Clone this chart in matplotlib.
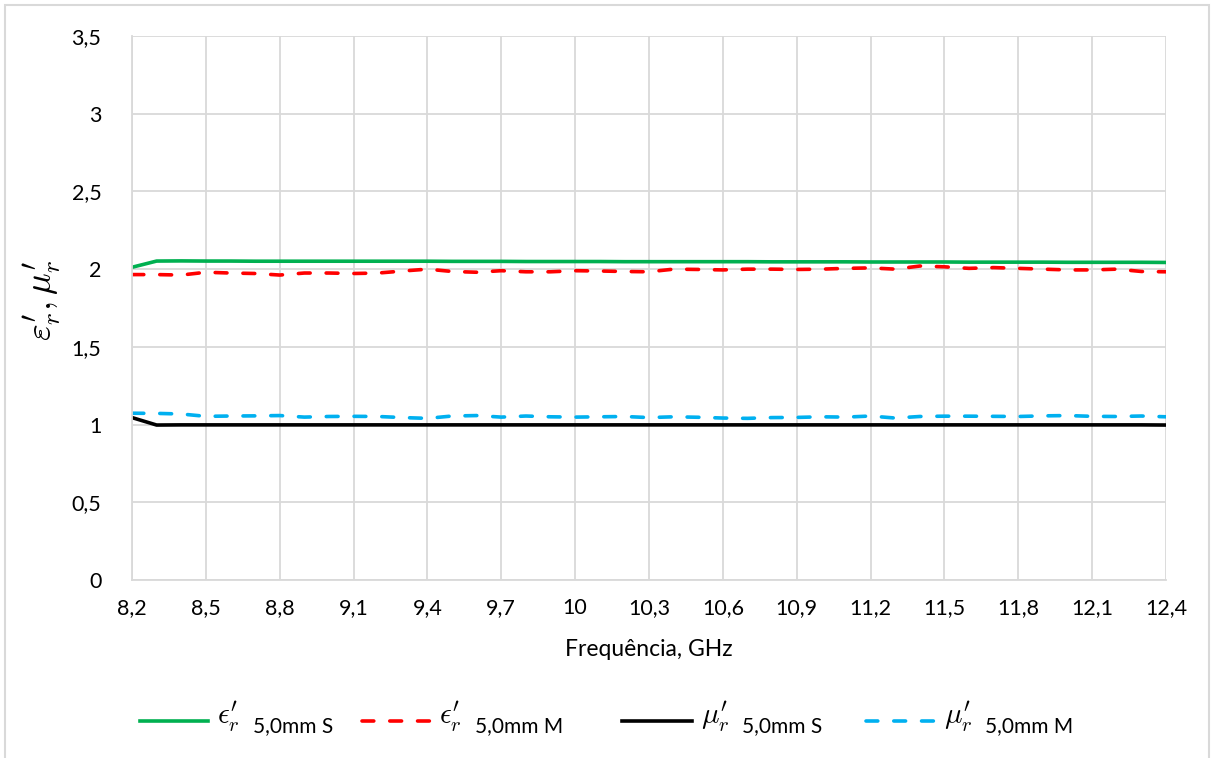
import numpy as np
import matplotlib.pyplot as plt
from matplotlib.patches import Rectangle
from matplotlib.lines import Line2D

plt.rcParams['font.family'] = ['Lato', 'DejaVu Sans']
plt.rcParams['mathtext.fontset'] = 'cm'
plt.rcParams['lines.scale_dashes'] = False

freq = np.round(np.arange(8.2, 12.41, 0.1), 1)

eps_s = [2.012, 2.052, 2.053, 2.052, 2.052, 2.051, 2.051, 2.051, 2.051, 2.051,
         2.051, 2.051, 2.051, 2.050, 2.050, 2.050, 2.049, 2.049, 2.049, 2.049,
         2.048, 2.048, 2.048, 2.048, 2.048, 2.048, 2.047, 2.047, 2.047, 2.047,
         2.046, 2.046, 2.046, 2.046, 2.045, 2.045, 2.045, 2.045, 2.044, 2.044,
         2.044, 2.044, 2.043]
eps_m = [1.965, 1.965, 1.962, 1.980, 1.975, 1.972, 1.962, 1.975, 1.975, 1.972,
         1.975, 1.988, 2.000, 1.985, 1.980, 1.990, 1.983, 1.983, 1.990, 1.988,
         1.985, 1.983, 2.000, 1.998, 1.995, 2.000, 2.000, 1.998, 2.000, 2.005,
         2.008, 2.000, 2.020, 2.015, 2.005, 2.010, 2.005, 2.000, 1.995, 1.995,
         2.000, 1.985, 1.983]
mu_s = [1.045, 0.997, 0.998, 0.998, 0.998, 0.998, 0.998, 0.998, 0.998, 0.998,
        0.998, 0.998, 0.998, 0.998, 0.998, 0.998, 0.998, 0.998, 0.998, 0.998,
        0.998, 0.998, 0.998, 0.998, 0.998, 0.998, 0.998, 0.998, 0.998, 0.998,
        0.998, 0.998, 0.998, 0.998, 0.998, 0.998, 0.998, 0.998, 0.998, 0.998,
        0.998, 0.998, 0.997]
mu_m = [1.073, 1.072, 1.068, 1.053, 1.055, 1.056, 1.058, 1.048, 1.052, 1.053,
        1.052, 1.045, 1.040, 1.055, 1.058, 1.048, 1.055, 1.050, 1.048, 1.050,
        1.052, 1.045, 1.050, 1.047, 1.042, 1.040, 1.045, 1.046, 1.050, 1.048,
        1.055, 1.042, 1.052, 1.054, 1.054, 1.053, 1.052, 1.056, 1.058, 1.053,
        1.052, 1.055, 1.050]

xticks = np.round(np.arange(8.2, 12.41, 0.3), 1)
yticks = np.arange(0, 3.51, 0.5)

# legend entries: symbol, suffix
leg_sym = [r"$\epsilon_r'$", r"$\epsilon_r'$", r"$\mu_r'$", r"$\mu_r'$"]
leg_txt = ["5,0mm S", "5,0mm M", "5,0mm S", "5,0mm M"]

W, H = 1214, 758
fig = plt.figure(figsize=(12.14, 7.58), dpi=100)
fig.patches.append(Rectangle((5 / W, -0.1), 1204 / W, 1.1 - 5 / H,
                             transform=fig.transFigure, fill=False,
                             edgecolor='#d9d9d9', linewidth=1.5))
ax = fig.add_axes([132 / W, 1 - 580 / H, 1034 / W, 544 / H])

lw = 2.6
dash = (8.5, 11.5)
styles = [dict(color='#00B050'),
          dict(color='#FF0000', dashes=dash, dash_capstyle='round'),
          dict(color='black'),
          dict(color='#00B0F0', dashes=dash, dash_capstyle='round')]

for ys, st in zip([eps_s, eps_m, mu_s, mu_m], styles):
    ax.plot(freq, ys, lw=lw, **st)

ax.set_xlim(8.2, 12.4)
ax.set_ylim(0, 3.5)
ax.set_xticks(xticks)
ax.set_xticklabels([f"{v:g}".replace('.', ',') for v in xticks])
ax.set_yticks(yticks)
ax.set_yticklabels([f"{v:g}".replace('.', ',') for v in yticks])
ax.tick_params(length=0, labelsize=15.5, labelcolor='#000000')
ax.tick_params(axis='y', pad=22)
ax.tick_params(axis='x', pad=13)
ax.grid(True, color='#d9d9d9', lw=1.3)
ax.set_axisbelow(True)
for s in ['top', 'right']:
    ax.spines[s].set_visible(False)
for s in ['left', 'bottom']:
    ax.spines[s].set_color('#d9d9d9')
    ax.spines[s].set_linewidth(1.3)

ax.set_xlabel('Frequência, GHz', fontsize=16.5, labelpad=15)
fig.text(42 / W, 1 - 300 / H, r"$\varepsilon_r', \mu_r'$", rotation=90,
         fontsize=26, ha='center', va='center')

# manual legend row
ly = 1 - 721 / H
line_x = [(140, 208), (362, 430), (622, 692), (866, 935)]
for (x0, x1), sym, txt, st in zip(line_x, leg_sym, leg_txt, styles):
    fig.add_artist(Line2D([x0 / W, x1 / W], [ly, ly], lw=lw,
                          transform=fig.transFigure, **st))
    t = fig.text((x1 + 9) / W, ly + 4 / H, sym, fontsize=21, ha='left', va='center')
    fig.canvas.draw()
    bb = t.get_window_extent()
    fig.text(bb.x1 / W + 13 / W, ly - 5 / H, txt, fontsize=15, ha='left', va='center')

fig.savefig('out.png', dpi=100)
